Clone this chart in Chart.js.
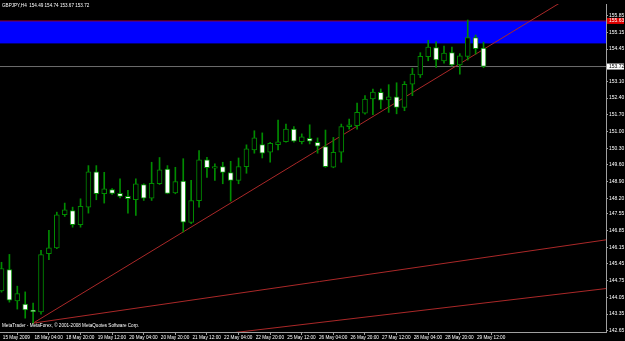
<!DOCTYPE html>
<html>
<head>
<meta charset="utf-8">
<script src="https://cdn.jsdelivr.net/npm/chart.js@4.4.1/dist/chart.umd.min.js"></script>
<style>
    html, body { margin: 0; padding: 0; background: #000; }
    #tamanho { width: 625px; height: 341px; }
</style>
</head>
<body>
<div id="tamanho"><canvas id="grafico"></canvas></div>
<script>
// GBPJPY H4, one value per bar (15 May 2009 12:00 .. 29 May 2009 16:00)
const abertura = [144.32, 145.22, 143.90, 143.77, 143.52, 143.44, 145.88, 146.12, 147.51, 147.69,
    147.10, 147.83, 149.31, 148.39, 148.57, 148.41, 148.28, 148.14, 148.78, 148.21,
    148.81, 149.42, 148.43, 148.92, 147.19, 148.10, 149.81, 149.46, 149.53, 149.28,
    148.95, 149.53, 150.23, 150.45, 150.13, 150.45, 150.57, 151.10, 150.57, 150.71,
    150.55, 150.37, 149.50, 150.13, 151.20, 151.24, 151.77, 152.36, 152.64, 152.32,
    152.45, 152.01, 152.98, 153.37, 154.13, 154.51, 153.96, 154.30, 153.79, 154.14,
    154.93, 154.49];
const maxima = [145.52, 145.85, 144.52, 144.28, 143.81, 146.02, 146.86, 147.62, 148.00, 147.83,
    148.18, 149.57, 149.57, 149.29, 148.61, 149.02, 148.53, 149.02, 148.81, 149.71,
    149.91, 149.57, 149.50, 149.86, 148.95, 150.20, 149.92, 149.64, 149.71, 149.75,
    149.89, 150.44, 151.03, 150.94, 150.55, 151.48, 151.31, 151.20, 150.90, 151.28,
    150.73, 151.06, 150.75, 151.31, 151.52, 152.19, 152.50, 152.78, 152.78, 152.96,
    153.04, 153.09, 153.65, 154.30, 154.82, 154.76, 154.58, 154.54, 154.26, 155.67,
    155.04, 154.74];
const minimas = [144.27, 143.85, 143.56, 143.18, 142.97, 143.35, 145.63, 146.09, 147.44, 146.99,
    146.99, 147.58, 148.14, 148.00, 148.36, 148.22, 147.58, 147.48, 148.11, 148.11,
    148.78, 148.39, 148.39, 146.79, 147.14, 147.83, 149.08, 148.95, 148.81, 148.08,
    148.81, 149.25, 150.09, 149.89, 149.71, 150.23, 150.55, 150.55, 150.48, 150.48,
    150.09, 149.50, 149.48, 149.71, 151.10, 151.10, 151.73, 151.70, 151.95, 151.80,
    151.74, 151.87, 152.50, 153.26, 153.96, 153.68, 153.86, 153.75, 153.40, 153.99,
    154.24, 153.67];
const fechamento = [145.26, 143.93, 144.21, 143.52, 143.45, 145.84, 146.13, 147.51, 147.72, 147.10,
    147.86, 149.31, 148.39, 148.60, 148.41, 148.28, 148.18, 148.81, 148.21, 148.83,
    149.39, 148.41, 148.90, 147.20, 148.10, 149.81, 149.48, 149.53, 149.28, 148.95,
    149.53, 150.27, 150.73, 150.09, 150.50, 150.57, 151.10, 150.59, 150.78, 150.59,
    150.38, 149.53, 150.13, 151.20, 151.28, 151.80, 152.36, 152.65, 152.31, 152.45,
    152.01, 152.98, 153.40, 154.15, 154.54, 154.00, 154.28, 153.79, 154.17, 154.93,
    154.47, 153.72];

// one label every 4 bars
const labelsDatas = ['15 May 2009', '18 May 04:00', '18 May 20:00', '19 May 12:00', '20 May 04:00',
    '20 May 20:00', '21 May 12:00', '22 May 04:00', '22 May 20:00', '25 May 12:00',
    '26 May 04:00', '26 May 20:00', '27 May 12:00', '28 May 04:00', '28 May 20:00', '29 May 12:00'];
const labelsPreco = [155.85, 155.15, 154.45, 153.10, 152.40, 151.70, 151.00, 150.30, 149.60,
    148.90, 148.20, 147.55, 146.85, 146.15, 145.45, 144.75, 144.05, 143.35, 142.65];

// objects drawn on the chart (bar index, price)
const zonaTopo = 155.63;
const zonaBase = 154.71;
const precoBid = 153.72;
const tendencia1 = [{ x: 4, y: 142.97 }, { x: 76.5, y: 157.56 }];
const tendencia2 = [{ x: 4, y: 142.97 }, { x: 76.5, y: 146.46 }];
const tendencia3 = [{ x: 26.8, y: 142.47 }, { x: 76.5, y: 144.42 }];

const cabecalho = 'GBPJPY,H4  154.49 154.74 153.67 153.72';
const rodape = 'MetaTrader - MetaForex, \u00a9 2001-2008 MetaQuotes Software Corp.';

const xMin = -0.19;
const xMax = 76.5;
const verde = 'rgb(0, 140, 0)';
const fonte = '"Liberation Sans", Arial, sans-serif';

const corpos = abertura.map((o, i) => ({ x: i, y: [o, fechamento[i]] }));
const pavios = abertura.map((o, i) => ({ x: i, y: [minimas[i], maxima[i]] }));
const corCorpo = abertura.map((o, i) => fechamento[i] < o ? '#ffffff' : '#000000');

const etiquetas = {
    id: 'etiquetas',
    afterDraw(chart) {
        const ctx = chart.ctx;
        const escalaY = chart.scales.y;
        ctx.save();
        ctx.font = '4.6px ' + fonte;
        ctx.textBaseline = 'middle';
        ctx.fillStyle = '#ffffff';
        ctx.fillText(cabecalho, 2, 6);
        ctx.fillText(rodape, 2, 326);

        const tags = [
            { valor: zonaTopo, fundo: '#e00000', texto: '#ffffff' },
            { valor: precoBid, fundo: '#ffffff', texto: '#000000' }
        ];
        ctx.font = '5px ' + fonte;
        tags.forEach(t => {
            const py = escalaY.getPixelForValue(t.valor);
            ctx.fillStyle = t.fundo;
            ctx.fillRect(escalaY.left + 1, py - 3, 17, 6);
            ctx.fillStyle = t.texto;
            ctx.fillText(t.valor.toFixed(2), escalaY.left + 3, py);
        });
        ctx.restore();
    }
};

const linha = (dados, cor, extra) => Object.assign({
    type: 'line',
    data: dados,
    borderColor: cor,
    borderWidth: 1,
    pointRadius: 0,
    fill: false
}, extra || {});

const config = {
    type: 'bar',
    data: {
        datasets: [
            {
                data: corpos,
                backgroundColor: corCorpo,
                borderColor: verde,
                borderWidth: 1,
                borderSkipped: false,
                barThickness: 5,
                minBarLength: 1,
                grouped: false
            },
            {
                data: pavios,
                backgroundColor: verde,
                borderWidth: 0,
                barThickness: 1,
                grouped: false
            },
            linha(tendencia1, 'rgb(170, 40, 40)'),
            linha(tendencia2, 'rgb(170, 40, 40)'),
            linha(tendencia3, 'rgb(170, 40, 40)'),
            linha([{ x: xMin, y: precoBid }, { x: xMax, y: precoBid }], 'rgb(110, 110, 110)'),
            linha([{ x: xMin, y: zonaTopo }, { x: xMax, y: zonaTopo }], 'rgb(140, 0, 60)'),
            linha([{ x: xMin, y: zonaBase }, { x: xMax, y: zonaBase }], '#0000ff',
                { fill: '-1', backgroundColor: '#0000ff' })
        ]
    },
    options: {
        responsive: true,
        maintainAspectRatio: false,
        animation: false,
        layout: { padding: 0 },
        plugins: {
            legend: { display: false },
            tooltip: { enabled: false }
        },
        scales: {
            x: {
                type: 'linear',
                min: xMin,
                max: xMax,
                offset: false,
                afterBuildTicks: scale => {
                    scale.ticks = labelsDatas.map((l, i) => ({ value: i * 4 }));
                },
                afterFit: scale => { scale.height = 9; },
                ticks: {
                    color: '#ffffff',
                    font: { size: 4.7, family: fonte },
                    align: 'start',
                    padding: 0,
                    autoSkip: false,
                    maxRotation: 0,
                    callback: (v, i) => ' ' + labelsDatas[i]
                },
                grid: { drawOnChartArea: false, drawTicks: true, tickLength: 3, color: '#a0a0a0' },
                border: { display: true, color: '#a0a0a0' }
            },
            y: {
                position: 'right',
                min: 142.60,
                max: 156.34,
                afterBuildTicks: scale => {
                    scale.ticks = labelsPreco.map(v => ({ value: v }));
                },
                afterFit: scale => { scale.width = 19; },
                ticks: {
                    color: '#ffffff',
                    font: { size: 5, family: fonte },
                    padding: 1,
                    callback: v => v.toFixed(2)
                },
                grid: { drawOnChartArea: false, drawTicks: true, tickLength: 2, color: '#a0a0a0' },
                border: { display: true, color: '#a0a0a0' }
            }
        }
    },
    plugins: [etiquetas]
};

Chart.defaults.color = '#ffffff';

const grafico = new Chart(document.getElementById('grafico'), config);
</script>
</body>
</html>
